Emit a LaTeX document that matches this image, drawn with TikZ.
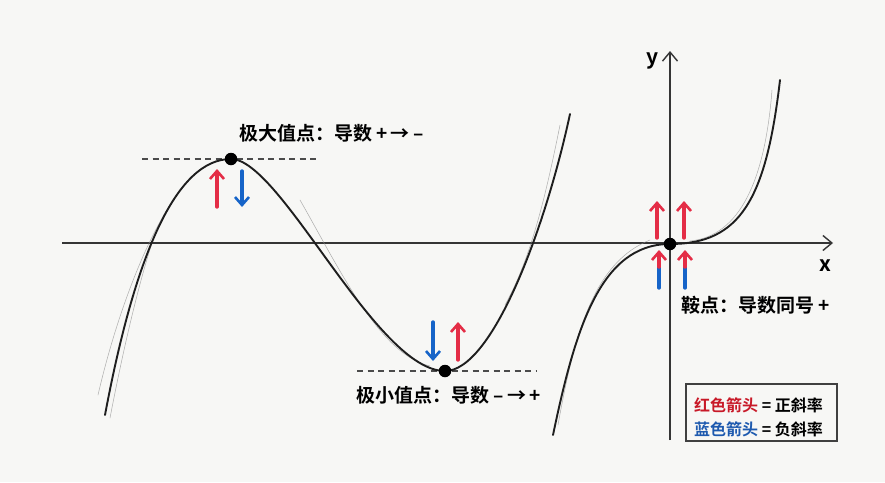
\documentclass[tikz,border=0pt]{standalone}
\usepackage{fontspec}
\newfontfamily\cjk{Noto Sans CJK SC Bold}
\usetikzlibrary{arrows.meta}
\definecolor{paper}{RGB}{247,247,245}
\definecolor{penred}{RGB}{228,45,70}
\definecolor{penblue}{RGB}{22,100,200}
\definecolor{txtred}{RGB}{200,25,40}
\definecolor{txtblue}{RGB}{30,90,175}
\definecolor{ink}{RGB}{30,30,30}
\tikzset{
  curve/.style={ink,line width=1.9pt,line cap=round},
  sketch/.style={black!45,line width=0.5pt,opacity=0.7,line cap=round},
  axis/.style={ink!90,line width=1.3pt,-{Straight Barb[length=9pt,width=15pt,line width=1.4pt]}},
  tangent/.style={ink!80,line width=1.3pt,dash pattern=on 6pt off 4.5pt},
  dot/.style={circle,fill=black,inner sep=0pt,minimum size=12.5pt},
  slope/.style={line width=3.4pt,line cap=round,-{Straight Barb[length=8pt,width=14pt,line width=2.6pt]}},
  lab/.style={font=\cjk\fontsize{19}{21}\selectfont,text=black,inner sep=0pt},
  legtxt/.style={font=\cjk\fontsize{16}{18}\selectfont,inner sep=0pt,anchor=west},
}
\begin{document}
\begin{tikzpicture}[x=1pt,y=-1pt]
\useasboundingbox (0,0) rectangle (885,482);
\fill[paper] (0,0) rectangle (885,482);

% axes
\coordinate (xl) at (62,243);
\coordinate (xr) at (833,243);
\coordinate (yb) at (670,440);
\coordinate (yt) at (670,51);
\draw[axis] (xl) -- (xr);
\draw[axis] (yb) -- (yt);
\node[lab,font=\cjk\fontsize{21}{23}\selectfont] (xlab) at (825,266) {x};
\node[lab,font=\cjk\fontsize{21}{23}\selectfont] (ylab) at (653,61) {y};

% tangent lines
\draw[tangent] (142,159) -- (316,159);
\draw[tangent] (357,371) -- (536,371);

% faint sketch strokes
\draw[sketch] (98,395) .. controls (120,300) and (160,200) .. (200,170);
\draw[sketch] (110,418) .. controls (125,340) and (140,280) .. (152,243);
\draw[sketch] (300,200) .. controls (340,270) and (380,355) .. (430,366);
\draw[sketch] (560,125) .. controls (545,200) and (530,260) .. (505,305);
\draw[sketch] (558,425) .. controls (575,330) and (595,262) .. (650,240);
\draw[sketch] (772,90) .. controls (765,180) and (740,236) .. (690,241);

% function curves
\draw[curve] (105,415) .. controls (135,255) and (176,159) .. (231,159)
  .. controls (281,159) and (376,371) .. (445,371)
  .. controls (492,371) and (545,230) .. (570,114);
\draw[curve] (553,435) .. controls (575,330) and (600,244) .. (670,244)
  .. controls (740,244) and (766,200) .. (780,80);

% points
\node[dot] (pmax) at (231,159) {};
\node[dot] (pmin) at (445,371) {};
\node[dot] (psad) at (670,244) {};

% slope arrows at maximum
\draw[slope,penred] (217,207) -- (217,169);
\draw[slope,penblue] (242,171) -- (242,207);
% slope arrows at minimum
\draw[slope,penblue] (433,322) -- (433,361);
\draw[slope,penred] (458,360) -- (458,322);
% slope arrows at saddle
\draw[slope,penred] (657,238) -- (657,201);
\draw[slope,penred] (684,238) -- (684,201);
\draw[line width=3.4pt,line cap=round,penblue] (659,288) -- (659,267);
\draw[line width=3.4pt,line cap=round,penblue] (685,288) -- (685,267);
\draw[slope,penred] (659,267) -- (659,250);
\draw[slope,penred] (685,267) -- (685,250);

% labels
\node[lab,anchor=west] (lmax) at (239,133) {极大值点：导数 +\,→\,–};
\node[lab,anchor=west] (lmin) at (356,395) {极小值点：导数 –\,→\,+};
\node[lab,anchor=west] (lsad) at (681,305) {鞍点：导数同号 +};

% legend
\draw[ink!85,line width=1.4pt] (686,384) rectangle (837,441);
\node[legtxt] (leg1) at (694,405) {\textcolor{txtred}{红色箭头} = 正斜率};
\node[legtxt] (leg2) at (694,429) {\textcolor{txtblue}{蓝色箭头} = 负斜率};
\end{tikzpicture}
\end{document}
